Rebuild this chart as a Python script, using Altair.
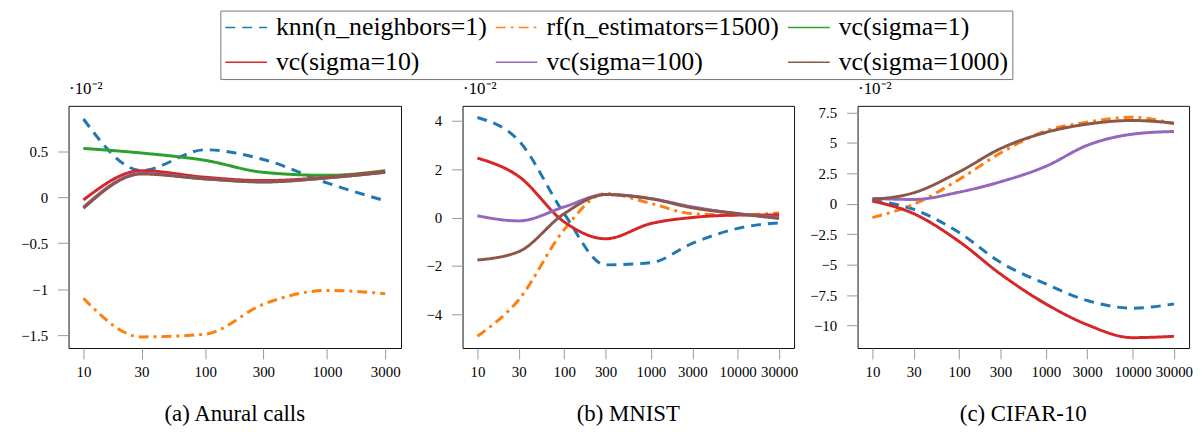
import altair as alt
import pandas as pd

series = ["knn(n_neighbors=1)", "rf(n_estimators=1500)", "vc(sigma=1)",
          "vc(sigma=10)", "vc(sigma=100)", "vc(sigma=1000)"]
colors = ["#1f77b4", "#ff7f0e", "#2ca02c", "#d62728", "#9467bd", "#8c564b"]
dashes = [[10, 7], [10, 5, 3, 5], [1, 0], [1, 0], [1, 0], [1, 0]]

# (a) Anural calls  (values x 10^-2)
x_a = [10, 30, 100, 300, 1000, 3000]
a_knn = [0.85, 0.29, 0.515, 0.41, 0.155, -0.04]
a_rf = [-1.10, -1.52, -1.49, -1.165, -1.015, -1.05]
a_vc1 = [0.53, 0.48, 0.40, 0.27, 0.237, 0.288]
a_vc10 = [-0.03, 0.288, 0.216, 0.18, 0.216, 0.28]
a_vc100 = [-0.108, 0.259, 0.20, 0.167, 0.21, 0.272]
a_vc1000 = [-0.122, 0.252, 0.198, 0.165, 0.209, 0.27]

# (b) MNIST
x_b = [10, 30, 100, 300, 1000, 3000, 10000, 30000]
b_knn = [4.14, 3.18, 0.16, -1.96, -1.87, -1.07, -0.45, -0.22]
b_rf = [-4.91, -3.40, -0.5, 0.99, 0.58, 0.16, 0.10, 0.19]
b_vc10 = [2.46, 1.70, -0.18, -0.88, -0.25, 0.0, 0.10, 0.11]
b_vc100 = [0.07, -0.14, 0.44, 0.95, 0.78, 0.44, 0.16, 0.0]
b_vc1000 = [-1.76, -1.41, 0.16, 0.95, 0.78, 0.40, 0.16, -0.04]

# (c) CIFAR-10
x_c = [10, 30, 100, 300, 1000, 3000, 10000, 30000]
c_knn = [0.27, -0.46, -2.37, -4.81, -6.58, -7.94, -8.57, -8.22]
c_rf = [-1.14, -0.05, 1.99, 4.16, 5.98, 6.69, 7.10, 6.56]
c_vc10 = [0.22, -0.82, -3.10, -5.77, -8.22, -9.93, -10.99, -10.88]
c_vc100 = [0.44, 0.35, 0.95, 1.80, 3.07, 4.79, 5.71, 5.93]
c_vc1000 = [0.35, 0.90, 2.61, 4.52, 5.85, 6.53, 6.83, 6.61]


def frame(xs, named):
    rows = []
    for name, vals in named:
        for x, v in zip(xs, vals):
            rows.append({"x": x, "y": v, "series": name})
    return pd.DataFrame(rows)


df_a = frame(x_a, [(series[0], a_knn), (series[1], a_rf), (series[2], a_vc1),
                   (series[3], a_vc10), (series[4], a_vc100), (series[5], a_vc1000)])
df_b = frame(x_b, [(series[0], b_knn), (series[1], b_rf), (series[3], b_vc10),
                   (series[4], b_vc100), (series[5], b_vc1000)])
df_c = frame(x_c, [(series[0], c_knn), (series[1], c_rf), (series[3], c_vc10),
                   (series[4], c_vc100), (series[5], c_vc1000)])

FONT = "'Liberation Serif'"

LX, LY = 153, -96
color_enc = alt.Color("series:N", scale=alt.Scale(domain=series, range=colors),
                      legend=alt.Legend(title=None, orient="none", legendX=LX, legendY=LY,
                                        columns=3, direction="horizontal"))
dash_enc = alt.StrokeDash("series:N", scale=alt.Scale(domain=series, range=dashes),
                          legend=alt.Legend(title=None, orient="none", legendX=LX, legendY=LY,
                                            columns=3, direction="horizontal"))


def panel(df, xticks, xdom, yticks, ydom, w, ext, caption):
    return alt.Chart(df).mark_line(strokeWidth=3, interpolate="monotone").encode(
        x=alt.X("x:Q", scale=alt.Scale(type="log", domain=xdom, nice=False),
                axis=alt.Axis(values=xticks, labelExpr="format(datum.value, 'd')",
                              title=None, labelPadding=6, labelOverlap=False,
                              labelFont=FONT, labelFontSize=15, labelColor="black")),
        y=alt.Y("y:Q", scale=alt.Scale(domain=ydom, nice=False, zero=False),
                axis=alt.Axis(values=yticks, labelExpr="format(datum.value, '~g')",
                              labelFont=FONT, labelFontSize=15, labelColor="black",
                              title="·10⁻²", titleAngle=0,
                              titleX=0, titleY=-12, titleAlign="left",
                              titleBaseline="alphabetic", titleFont=FONT, titleFontSize=17,
                              titleFontWeight="normal", titleColor="black", labelPadding=10,
                              minExtent=ext, maxExtent=ext)),
        color=color_enc,
        strokeDash=dash_enc,
        order=alt.Order("x:Q"),
    ).properties(
        width=w, height=244,
        title=alt.TitleParams(caption, orient="bottom", frame="group", font=FONT,
                              fontSize=23, fontWeight="normal", offset=24, color="black"),
    )


pa = panel(df_a, x_a, [7.55, 4046], [-1.5, -1, -0.5, 0, 0.5], [-1.641, 0.993], 335, 60,
           "(a) Anural calls")
pb = panel(df_b, x_b, [6.74, 44600], [-4, -2, 0, 2, 4], [-5.40, 4.62], 334, 60,
           "(b) MNIST")
pc = panel(df_c, x_c, [6.74, 44800], [-10, -7.5, -5, -2.5, 0, 2.5, 5, 7.5], [-11.84, 8.03],
           334, 58, "(c) CIFAR-10")

chart = alt.hconcat(pa, pb, pc, spacing=0).properties(padding=0).configure_view(
    stroke="#111", strokeWidth=1
).configure_axis(
    domain=False, grid=False, tickColor="#999", tickSize=11, tickWidth=1,
    labelFont=FONT, labelFontSize=15, labelColor="black"
).configure_legend(
    symbolType="stroke", symbolSize=1764, symbolStrokeWidth=1.5, labelFont=FONT,
    labelFontSize=26, labelColor="black", labelLimit=0, labelOffset=8,
    columnPadding=7.5, rowPadding=9, clipHeight=26, padding=4,
    strokeColor="#777", fillColor="white"
)

chart.save("out.html", embed_options={"renderer": "svg", "actions": False})
